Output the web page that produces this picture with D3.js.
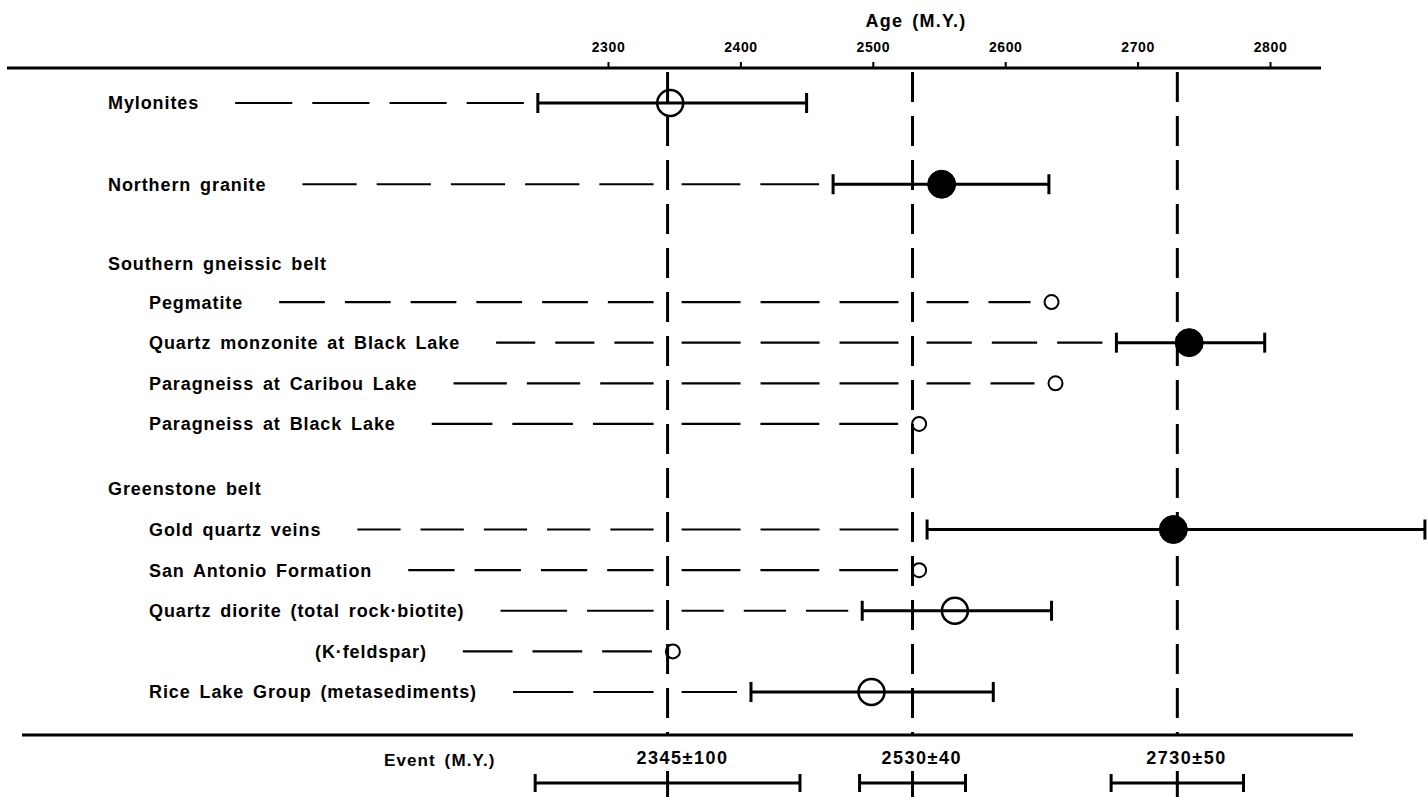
<!DOCTYPE html>
<html>
<head>
<meta charset="utf-8">
<script src="https://cdn.jsdelivr.net/npm/d3@7/dist/d3.min.js"></script>
<style>
  html, body { margin: 0; padding: 0; background: #ffffff; }
  svg { display: block; }
  text { font-family: "Liberation Sans", Arial, sans-serif; font-weight: bold; fill: #000; }
</style>
</head>
<body>
<svg id="chart" width="1427" height="797"></svg>
<script>
// ---------------- DATA ----------------
const ageTicks = [2300, 2400, 2500, 2600, 2700, 2800];

const rowLabels = [
  "Mylonites",
  "Northern granite",
  "Southern gneissic belt",
  "Pegmatite",
  "Quartz monzonite at Black Lake",
  "Paragneiss at Caribou Lake",
  "Paragneiss at Black Lake",
  "Greenstone belt",
  "Gold quartz veins",
  "San Antonio Formation",
  "Quartz diorite (total rock\u00B7biotite)",
  "(K\u00B7feldspar)",
  "Rice Lake Group (metasediments)"
];
// age estimate (M.Y.), null for group headers
const ageValue = [2347, 2552, null, 2635, 2739, 2638, 2535, null, 2727, 2535, 2562, 2349, 2499];
// error range, null when no error bar drawn
const ageLow   = [2247, 2470, null, null, 2684, null, null, null, 2541, null, 2492, null, 2408];
const ageHigh  = [2450, 2633, null, null, 2796, null, null, null, 2917, null, 2635, null, 2591];
// marker kind: "open" large open circle, "filled" solid dot, "small" small open circle
const markerKind = ["open", "filled", null, "small", "filled", "small", "small", null, "filled", "small", "open", "small", "open"];

const eventAges   = [2345, 2530, 2730];
const eventErrors = [100, 40, 50];
const eventLabels = ["2345\u00B1100", "2530\u00B140", "2730\u00B150"];

// ---------------- LAYOUT ----------------
const rowSlot = [0, 2, 3.95, 4.9, 5.9, 6.9, 7.9, 9.5, 10.5, 11.5, 12.5, 13.5, 14.5];
const rowIndent = [0, 0, 0, 1, 1, 1, 1, 0, 1, 1, 1, 2, 1];
const indentX = [108, 149, 315];
const markerR = { open: 13, filled: 14, small: 7 };

const svg = d3.select("#chart");
const x = d3.scaleLinear().domain([2300, 2800]).range([608, 1270]);
const y = d3.scaleLinear().domain([0, 14.5]).range([103, 692]);

const topAxisY = 68, bottomAxisY = 735;
const labelStyle = (sel, size, ls) => sel
  .style("font-size", size + "px")
  .style("letter-spacing", (ls == null ? 0.9 : ls) + "px")
  .style("word-spacing", "3px");

// Title
labelStyle(svg.append("text")
  .attr("x", 916).attr("y", 27)
  .attr("text-anchor", "middle")
  .text("Age (M.Y.)"), 18, 1.2);

// Top axis
const axisG = svg.append("g").attr("transform", `translate(0,${topAxisY})`)
  .call(d3.axisTop(x).tickValues(ageTicks).tickSize(6).tickPadding(10).tickFormat(d3.format("d")));
axisG.select(".domain").remove();
axisG.selectAll(".tick line").attr("stroke", "#000").attr("stroke-width", 2);
axisG.selectAll(".tick text")
  .attr("fill", "#000")
  .style("font-family", "'Liberation Sans', Arial, sans-serif")
  .style("font-weight", "bold")
  .style("font-size", "14px")
  .style("letter-spacing", "0.6px");

svg.append("line").attr("x1", 7).attr("x2", 1321).attr("y1", topAxisY).attr("y2", topAxisY)
  .attr("stroke", "#000").attr("stroke-width", 3);
svg.append("line").attr("x1", 22).attr("x2", 1353).attr("y1", bottomAxisY).attr("y2", bottomAxisY)
  .attr("stroke", "#000").attr("stroke-width", 3);

// Row labels
const rows = rowLabels.map((label, i) => ({
  label, i,
  value: ageValue[i], low: ageLow[i], high: ageHigh[i], kind: markerKind[i],
  yPos: y(rowSlot[i]), xLab: indentX[rowIndent[i]]
}));

const labelSel = svg.append("g").selectAll("text").data(rows).join("text")
  .attr("x", d => d.xLab).attr("y", d => d.yPos).attr("dy", "0.36em")
  .text(d => d.label);
labelStyle(labelSel, 18);

// Horizontal dashed leader lines, broken where they cross the event lines
const dashG = svg.append("g");
const DASH = 50, GAP = 20;
rows.filter(d => d.value != null).forEach(d => {
  const node = labelSel.filter(e => e.i === d.i).node();
  const bb = node.getBBox();
  const start = bb.x + bb.width + 36;
  const end = (d.low != null ? x(d.low) : x(d.value) - markerR[d.kind]) - 14;
  const cuts = eventAges.map(x).filter(ex => ex > start && ex < end).sort((a, b) => a - b);
  let s = start;
  const segs = [];
  cuts.forEach(c => { if (c - 14 > s) segs.push([s, c - 14]); s = c + 14; });
  if (end > s) segs.push([s, end]);
  segs.forEach(([a, b]) => {
    const len = b - a;
    if (len < 12) return;
    const n = Math.max(1, Math.round((len + GAP) / (DASH + GAP)));
    const dl = (len - (n - 1) * GAP) / n;
    for (let k = 0; k < n; k++) {
      const x1 = a + k * (dl + GAP);
      dashG.append("line")
        .attr("x1", x1).attr("x2", x1 + dl).attr("y1", d.yPos).attr("y2", d.yPos)
        .attr("stroke", "#000").attr("stroke-width", 2.2);
    }
  });
});

// Vertical event lines
svg.append("g").selectAll("line").data(eventAges).join("line")
  .attr("x1", d => x(d)).attr("x2", d => x(d))
  .attr("y1", topAxisY + 4).attr("y2", bottomAxisY)
  .attr("stroke", "#000").attr("stroke-width", 3)
  .attr("stroke-dasharray", "30,14");

// Error bars
const eb = rows.filter(d => d.low != null);
const ebG = svg.append("g").attr("stroke", "#000").attr("stroke-width", 3);
ebG.selectAll("line.bar").data(eb).join("line").attr("class", "bar")
  .attr("x1", d => x(d.low)).attr("x2", d => x(d.high))
  .attr("y1", d => d.yPos).attr("y2", d => d.yPos);
ebG.selectAll("line.capL").data(eb).join("line").attr("class", "capL")
  .attr("x1", d => x(d.low)).attr("x2", d => x(d.low))
  .attr("y1", d => d.yPos - 10).attr("y2", d => d.yPos + 10);
ebG.selectAll("line.capR").data(eb).join("line").attr("class", "capR")
  .attr("x1", d => x(d.high)).attr("x2", d => x(d.high))
  .attr("y1", d => d.yPos - 10).attr("y2", d => d.yPos + 10);

// Markers
svg.append("g").selectAll("circle").data(rows.filter(d => d.value != null)).join("circle")
  .attr("cx", d => x(d.value)).attr("cy", d => d.yPos)
  .attr("r", d => markerR[d.kind])
  .attr("fill", d => d.kind === "filled" ? "#000" : "none")
  .attr("stroke", "#000")
  .attr("stroke-width", d => d.kind === "filled" ? 1 : (d.kind === "small" ? 2 : 2.5));

// Event annotation below
labelStyle(svg.append("text").attr("x", 384).attr("y", 760).attr("dy", "0.36em")
  .text("Event (M.Y.)"), 17, 1.1);

labelStyle(svg.append("g").selectAll("text").data(eventAges).join("text")
  .attr("x", d => x(d) - 31).attr("y", 758).attr("dy", "0.36em")
  .text((d, i) => eventLabels[i]), 18, 1.5);

const evG = svg.append("g").attr("stroke", "#000").attr("stroke-width", 3);
const evBarY = 783;
evG.selectAll("line.ebar").data(eventAges).join("line").attr("class", "ebar")
  .attr("x1", (d, i) => x(d - eventErrors[i])).attr("x2", (d, i) => x(d + eventErrors[i]))
  .attr("y1", evBarY).attr("y2", evBarY);
evG.selectAll("line.ecl").data(eventAges).join("line").attr("class", "ecl")
  .attr("x1", (d, i) => x(d - eventErrors[i])).attr("x2", (d, i) => x(d - eventErrors[i]))
  .attr("y1", evBarY - 9).attr("y2", evBarY + 9);
evG.selectAll("line.ecr").data(eventAges).join("line").attr("class", "ecr")
  .attr("x1", (d, i) => x(d + eventErrors[i])).attr("x2", (d, i) => x(d + eventErrors[i]))
  .attr("y1", evBarY - 9).attr("y2", evBarY + 9);
evG.selectAll("line.ecc").data(eventAges).join("line").attr("class", "ecc")
  .attr("x1", d => x(d)).attr("x2", d => x(d))
  .attr("y1", evBarY - 12).attr("y2", 797);
</script>
</body>
</html>
